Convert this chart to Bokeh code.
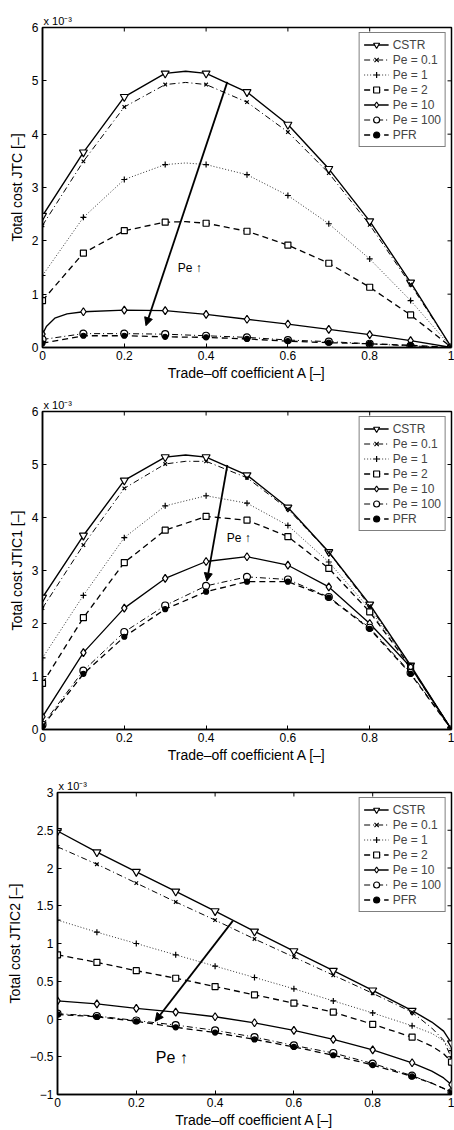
import math
from bokeh.plotting import figure
from bokeh.layouts import column
from bokeh.models import (Range1d, FixedTicker, Label, Arrow,
                          NormalHead, Legend, LegendItem)
from bokeh.embed import file_html
from bokeh.resources import INLINE

# ---------------- data (values in units of 1e-3) ----------------
A = [0.0, 0.1, 0.2, 0.3, 0.4, 0.5, 0.6, 0.7, 0.8, 0.9, 1.0]
series_names = ["CSTR", "Pe = 0.1", "Pe = 1", "Pe = 2", "Pe = 10", "Pe = 100", "PFR"]

# Panel 1: JTC
jtc_cstr = [2.47, 3.66, 4.70, 5.14, 5.14, 4.79, 4.18, 3.35, 2.37, 1.22, 0.0]
jtc_pe01 = [2.29, 3.49, 4.51, 4.93, 4.93, 4.60, 4.04, 3.27, 2.30, 1.18, 0.0]
jtc_pe1 = [1.35, 2.44, 3.15, 3.43, 3.43, 3.24, 2.85, 2.32, 1.66, 0.88, 0.0]
jtc_pe2 = [0.88, 1.77, 2.19, 2.35, 2.33, 2.18, 1.92, 1.58, 1.13, 0.61, 0.0]
jtc_pe10 = [0.25, 0.67, 0.70, 0.69, 0.62, 0.53, 0.44, 0.34, 0.24, 0.13, 0.0]
jtc_pe100 = [0.15, 0.26, 0.26, 0.25, 0.22, 0.19, 0.14, 0.11, 0.07, 0.03, 0.0]
jtc_pfr = [0.08, 0.22, 0.22, 0.20, 0.19, 0.16, 0.12, 0.09, 0.07, 0.04, 0.0]
# extra curve points read between markers (A, value)
jtc_extra = {
    "CSTR": ([0.35], [5.18]),
    "Pe = 0.1": ([0.35], [4.97]),
    "Pe = 1": ([0.35], [3.46]),
    "Pe = 2": ([0.35], [2.36]),
    "Pe = 10": ([0.01, 0.03, 0.06], [0.40, 0.55, 0.63]),
}

# Panel 2: JTIC1
ic1_cstr = [2.49, 3.66, 4.70, 5.14, 5.14, 4.80, 4.19, 3.35, 2.36, 1.21, 0.0]
ic1_pe01 = [2.29, 3.48, 4.55, 5.01, 5.06, 4.75, 4.16, 3.34, 2.33, 1.20, 0.0]
ic1_pe1 = [1.35, 2.53, 3.62, 4.22, 4.41, 4.27, 3.85, 3.16, 2.27, 1.20, 0.0]
ic1_pe2 = [0.87, 2.11, 3.15, 3.76, 4.02, 3.95, 3.64, 3.04, 2.22, 1.18, 0.0]
ic1_pe10 = [0.24, 1.45, 2.29, 2.85, 3.17, 3.26, 3.10, 2.69, 2.00, 1.18, 0.0]
ic1_pe100 = [0.09, 1.11, 1.84, 2.34, 2.71, 2.88, 2.83, 2.50, 1.92, 1.07, 0.0]
ic1_pfr = [0.06, 1.05, 1.75, 2.27, 2.60, 2.79, 2.79, 2.49, 1.90, 1.05, 0.0]
ic1_extra = {
    "CSTR": ([0.35], [5.18]),
    "Pe = 0.1": ([0.35], [5.06]),
}

# Panel 3: JTIC2
ic2_cstr = [2.49, 2.21, 1.95, 1.69, 1.43, 1.16, 0.90, 0.64, 0.38, 0.11, -0.32]
ic2_pe01 = [2.28, 2.05, 1.80, 1.55, 1.31, 1.06, 0.82, 0.58, 0.34, 0.09, -0.52]
ic2_pe1 = [1.31, 1.15, 1.00, 0.85, 0.70, 0.55, 0.40, 0.24, 0.08, -0.09, -0.42]
ic2_pe2 = [0.85, 0.75, 0.64, 0.54, 0.43, 0.32, 0.21, 0.09, -0.07, -0.24, -0.57]
ic2_pe10 = [0.24, 0.20, 0.14, 0.09, 0.03, -0.05, -0.15, -0.27, -0.41, -0.58, -0.87]
ic2_pe100 = [0.07, 0.04, -0.02, -0.08, -0.15, -0.24, -0.35, -0.45, -0.59, -0.75, -0.97]
ic2_pfr = [0.06, 0.03, -0.03, -0.11, -0.18, -0.27, -0.37, -0.48, -0.61, -0.76, -0.97]
ic2_extra = {
    "CSTR": ([0.95, 0.98], [-0.04, -0.16]),
    "Pe = 0.1": ([0.95, 0.98], [-0.12, -0.28]),
    "Pe = 1": ([0.95, 0.98], [-0.19, -0.29]),
    "Pe = 2": ([0.95, 0.98], [-0.36, -0.46]),
    "Pe = 10": ([0.95, 0.98], [-0.69, -0.78]),
    "Pe = 100": ([0.95, 0.98], [-0.85, -0.92]),
    "PFR": ([0.95, 0.98], [-0.85, -0.92]),
}

x_ticks = [0, 0.2, 0.4, 0.6, 0.8, 1]
x_tick_labels = ["0", "0.2", "0.4", "0.6", "0.8", "1"]
y12_ticks = [0, 1, 2, 3, 4, 5, 6]
y12_tick_labels = ["0", "1", "2", "3", "4", "5", "6"]
y3_ticks = [-1, -0.5, 0, 0.5, 1, 1.5, 2, 2.5, 3]
y3_tick_labels = ["\u22121", "\u22120.5", "0", "0.5", "1", "1.5", "2", "2.5", "3"]

x_title = "Trade\u2013off coefficient A [\u2013]"
y_titles = ["Total cost JTC [\u2013]", "Total cost JTIC1 [\u2013]", "Total cost JTIC2 [\u2013]"]
multiplier = "x 10\u207b\u00b3"

# arrow annotations (x_start, y_start, x_end, y_end) and "Pe ↑" label positions
arrows = [(0.452, 4.98, 0.253, 0.41), (0.452, 4.99, 0.402, 2.80), (0.445, 1.30, 0.248, -0.03)]
pe_labels = [(0.36, 1.5), (0.48, 3.62), (0.29, -0.51)]

# ---------------- styles ----------------
FONT = "Liberation Sans"
styles = {
    "CSTR": dict(dash="solid", marker="inverted_triangle", size=8, fill="white", color="black", lw=1.4),
    "Pe = 0.1": dict(dash="6 3 1 3", marker="x", size=5, fill="black", color="black", lw=1.0),
    "Pe = 1": dict(dash="1 2", marker="cross", size=6, fill="black", color="#333333", lw=1.0),
    "Pe = 2": dict(dash="6 4", marker="square", size=6, fill="white", color="black", lw=1.3),
    "Pe = 10": dict(dash="solid", marker="diamond", size=8, fill="white", color="black", lw=1.3),
    "Pe = 100": dict(dash="6 3 1 3", marker="circle", size=7, fill="white", color="black", lw=1.0),
    "PFR": dict(dash="6 4", marker="circle", size=5, fill="black", color="black", lw=1.3),
}


def make_panel(values, extras, y_range, y_ticks, y_labels, y_title, height,
               b_top, b_bottom, b_left, arrow, pe_pos, pe_size):
    p = figure(width=454, height=height, x_range=Range1d(0, 1),
               y_range=Range1d(*y_range), output_backend="svg",
               toolbar_location=None, min_border_left=b_left, min_border_right=3,
               min_border_top=b_top, min_border_bottom=b_bottom)
    p.frame_align = False
    p.xgrid.visible = False
    p.ygrid.visible = False
    p.outline_line_color = "black"
    p.outline_line_width = 1.5
    p.background_fill_color = "white"

    # "x 10^-3" multiplier as a left-aligned title
    p.title.text = multiplier
    p.title.align = "left"
    p.title.text_font = FONT
    p.title.text_font_size = "11px"
    p.title.text_font_style = "normal"
    p.title.text_color = "black"
    p.title.standoff = 1
    p.title.offset = 1

    # axes
    for ax, ticks, labels in ((p.xaxis[0], x_ticks, x_tick_labels), (p.yaxis[0], y_ticks, y_labels)):
        ax.ticker = FixedTicker(ticks=ticks)
        ax.major_label_overrides = {t: l for t, l in zip(ticks, labels)}
        ax.major_tick_in = 4
        ax.major_tick_out = 0
        ax.minor_tick_line_color = None
        ax.axis_line_width = 1.5
        ax.major_tick_line_width = 1
        ax.major_label_text_font = FONT
        ax.major_label_text_font_size = "12px"
        ax.major_label_text_color = "black"
        ax.axis_label_text_font = FONT
        ax.axis_label_text_font_size = "14px"
        ax.axis_label_text_font_style = "normal"
        ax.axis_label_text_color = "black"
    p.xaxis.major_label_standoff = 3
    p.xaxis.axis_label_standoff = 2
    p.yaxis.major_label_standoff = 4
    p.yaxis.axis_label_standoff = 4
    p.xaxis.axis_label = x_title
    p.yaxis.axis_label = y_title

    # mirrored inward ticks on the top and right frame edges (half of each dash is clipped)
    p.scatter(x_ticks, [y_range[1]] * len(x_ticks), marker="dash", size=8,
              angle=math.pi / 2, line_color="black", line_width=1)
    p.scatter([1] * len(y_ticks), y_ticks, marker="dash", size=8,
              line_color="black", line_width=1)

    items = []
    for name, vals in zip(series_names, values):
        st = styles[name]
        xs, ys = list(A), list(vals)
        if name in extras:
            ex, ey = extras[name]
            pts = sorted(list(zip(xs, ys)) + list(zip(ex, ey)))
            xs = [q[0] for q in pts]
            ys = [q[1] for q in pts]
        lr = p.line(xs, ys, line_color=st["color"], line_width=st["lw"], line_dash=st["dash"])
        mr = p.scatter(A, vals, marker=st["marker"], size=st["size"], line_color="black",
                       fill_color=st["fill"], line_width=1.2)
        items.append(LegendItem(label=name, renderers=[lr, mr]))

    legend = Legend(items=items, location="top_right", border_line_color="black",
                    border_line_width=1, background_fill_alpha=1, label_text_font=FONT,
                    label_text_font_size="12px", glyph_width=25, glyph_height=15,
                    label_height=15, spacing=0, padding=4, margin=5, label_standoff=4)
    p.add_layout(legend)

    xs0, ys0, xe, ye = arrow
    p.add_layout(Arrow(end=NormalHead(size=8, fill_color="black", line_color="black"),
                       x_start=xs0, y_start=ys0, x_end=xe, y_end=ye, line_width=1.8,
                       line_color="black"))
    p.add_layout(Label(x=pe_pos[0], y=pe_pos[1], text="Pe \u2191", text_align="center",
                       text_baseline="middle", text_font=FONT, text_font_size=pe_size,
                       text_color="black"))
    return p


p1 = make_panel([jtc_cstr, jtc_pe01, jtc_pe1, jtc_pe2, jtc_pe10, jtc_pe100, jtc_pfr], jtc_extra,
                (0, 6), y12_ticks, y12_tick_labels, y_titles[0], 385, 27, 38, 42,
                arrows[0], pe_labels[0], "12px")
p2 = make_panel([ic1_cstr, ic1_pe01, ic1_pe1, ic1_pe2, ic1_pe10, ic1_pe100, ic1_pfr], ic1_extra,
                (0, 6), y12_ticks, y12_tick_labels, y_titles[1], 381, 26, 37, 42,
                arrows[1], pe_labels[1], "12px")
p3 = make_panel([ic2_cstr, ic2_pe01, ic2_pe1, ic2_pe2, ic2_pe10, ic2_pe100, ic2_pfr], ic2_extra,
                (-1, 3), y3_ticks, y3_tick_labels, y_titles[2], 364, 26, 33, 57,
                arrows[2], pe_labels[2], "16px")

layout = column(p1, p2, p3, spacing=0)
open("out.html", "w").write(file_html(layout, INLINE))
